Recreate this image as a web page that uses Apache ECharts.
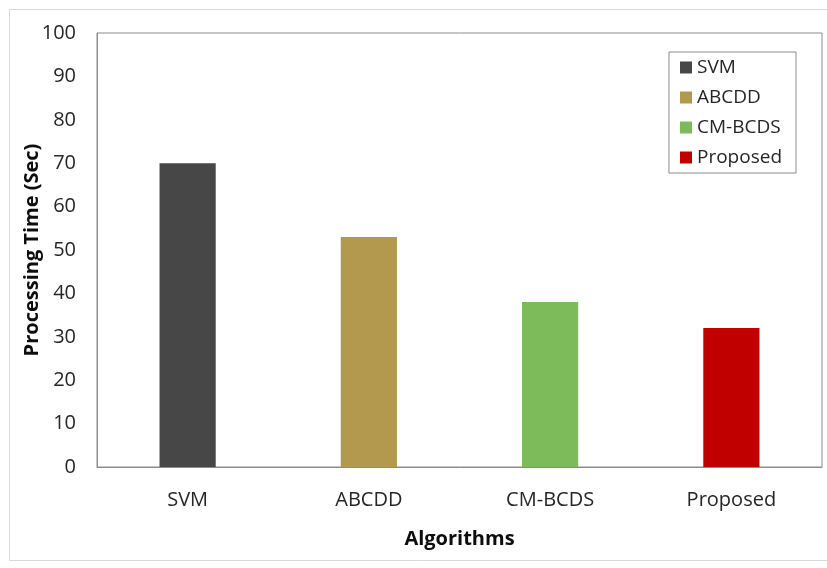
<!DOCTYPE html>
<html>
<head>
<meta charset="utf-8">
<script src="https://cdn.jsdelivr.net/npm/echarts@6/dist/echarts.min.js"></script>
<style>
  html, body { margin: 0; padding: 0; background: #ffffff; }
  #chart { width: 827px; height: 568px; }
</style>
</head>
<body>
<div id="chart"></div>
<script>
// Processing time per algorithm (seconds)
const categories = ['SVM', 'ABCDD', 'CM-BCDS', 'Proposed'];
const processingTime = [70, 53, 38, 32];
const barColors = ['#474747', '#b3994d', '#7dba5a', '#c00000'];
const yTicks = { min: 0, max: 100, interval: 10 };

const FONT = '"Open Sans", "DejaVu Sans", sans-serif';

// One series per algorithm so each gets its own legend entry;
// the shared stack keeps every bar centred on its category.
const series = categories.map((name, i) => ({
  name: name,
  type: 'bar',
  stack: 'all',
  barWidth: '31%',
  itemStyle: { color: barColors[i] },
  data: processingTime.map((v, j) => (j === i ? v : '-'))
}));

const chart = echarts.init(document.getElementById('chart'), null, { renderer: 'canvas' });
chart.setOption({
  animation: false,
  backgroundColor: '#ffffff',
  textStyle: { fontFamily: FONT },
  graphic: [{
    type: 'rect',
    shape: { x: 9.5, y: 9.5, width: 830, height: 551 },
    style: { fill: 'none', stroke: '#d9d9d9', lineWidth: 1 },
    silent: true
  }],
  grid: {
    left: 97, right: 5, top: 33, bottom: 101,
    show: true, borderColor: '#8c8c8c', borderWidth: 1, backgroundColor: 'transparent'
  },
  legend: {
    orient: 'vertical',
    right: 31, top: 52,
    padding: [6, 14, 6, 11],
    itemGap: 11,
    itemWidth: 12, itemHeight: 12,
    icon: 'rect',
    borderColor: '#8c8c8c', borderWidth: 1,
    textStyle: { fontFamily: FONT, fontSize: 19, color: '#262626', padding: [0, 0, 0, 0] },
    data: categories
  },
  xAxis: {
    type: 'category',
    data: categories,
    name: 'Algorithms',
    nameLocation: 'middle',
    nameGap: 62,
    nameTextStyle: { fontFamily: FONT, fontSize: 20, fontWeight: 'bold', color: '#0d0d0d' },
    axisLine: { show: true, lineStyle: { color: '#8c8c8c', width: 1 } },
    axisTick: { show: false },
    axisLabel: { fontFamily: FONT, fontSize: 20, color: '#262626', margin: 23 },
    splitLine: { show: false }
  },
  yAxis: {
    type: 'value',
    min: yTicks.min, max: yTicks.max, interval: yTicks.interval,
    name: 'Processing Time (Sec)',
    nameLocation: 'middle',
    nameGap: 55,
    nameMoveOverlap: false,
    nameTextStyle: { fontFamily: FONT, fontSize: 20, fontWeight: 'bold', color: '#0d0d0d' },
    axisLine: { show: true, lineStyle: { color: '#8c8c8c', width: 1 } },
    axisTick: { show: false },
    axisLabel: { fontFamily: FONT, fontSize: 20, color: '#262626', margin: 21 },
    splitLine: { show: false }
  },
  series: series
});
</script>
</body>
</html>
